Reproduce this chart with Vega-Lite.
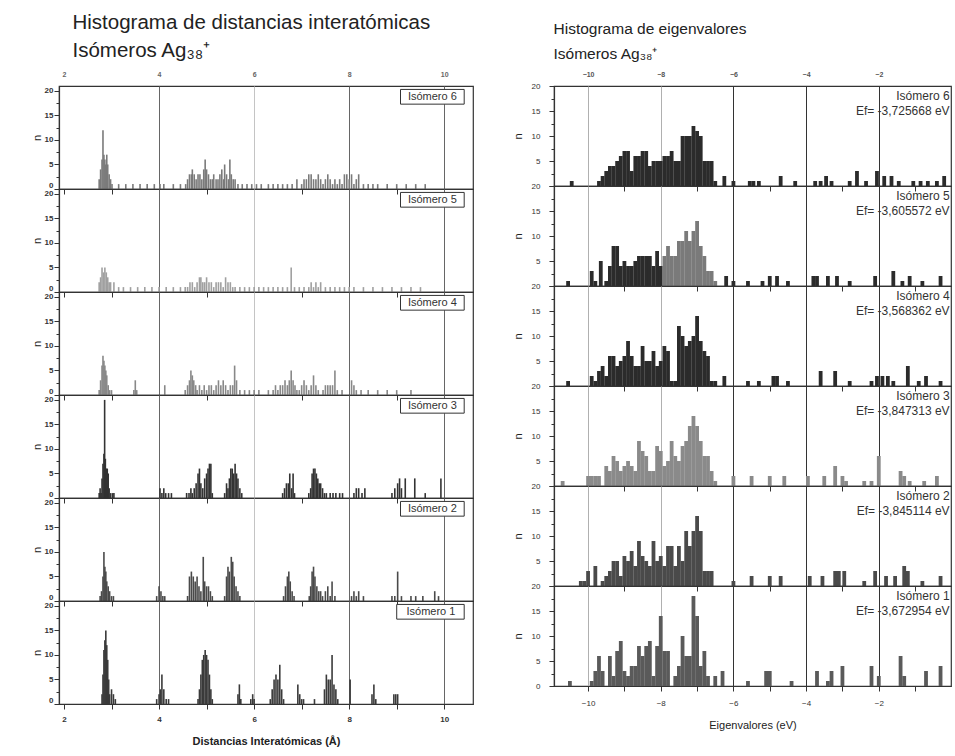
{
"$schema":"https://vega.github.io/schema/vega-lite/v6.json",
"padding":{"left":30,"top":12,"right":0,"bottom":5},
"background":"white",
"config":{
 "view":{"stroke":"#333","strokeWidth":1.2},
 "font":"Liberation Sans",
 "axis":{"domainColor":"#333","tickColor":"#333","labelColor":"#333","labelFontSize":8,"labelFontWeight":"bold","titleFontWeight":"normal","titleFontSize":11,"titleColor":"#222","domainWidth":1.2,"labelOverlap":false},
 "axisY":{"grid":false}
},
"datasets":{
"labs":[{"p":6,"lab":"Isómero 6","ef":"Ef= -3,725668 eV"},{"p":5,"lab":"Isómero 5","ef":"Ef= -3,605572 eV"},{"p":4,"lab":"Isómero 4","ef":"Ef= -3,568362 eV"},{"p":3,"lab":"Isómero 3","ef":"Ef= -3,847313 eV"},{"p":2,"lab":"Isómero 2","ef":"Ef= -3,845114 eV"},{"p":1,"lab":"Isómero 1","ef":"Ef= -3,672954 eV"}],
"dist":[
{"p":6,"d":2.74,"n":2},{"p":6,"d":2.77,"n":4},{"p":6,"d":2.80,"n":6},{"p":6,"d":2.82,"n":12},{"p":6,"d":2.84,"n":7},{"p":6,"d":2.86,"n":6},{"p":6,"d":2.88,"n":5},{"p":6,"d":2.90,"n":7},{"p":6,"d":2.92,"n":5},{"p":6,"d":2.95,"n":3},{"p":6,"d":2.98,"n":2},{"p":6,"d":3.01,"n":1},
{"p":6,"d":3.15,"n":1},{"p":6,"d":3.3,"n":1},{"p":6,"d":3.45,"n":1},{"p":6,"d":3.6,"n":1},{"p":6,"d":3.75,"n":1},{"p":6,"d":3.9,"n":1},{"p":6,"d":4.02,"n":1},{"p":6,"d":4.1,"n":1},{"p":6,"d":4.3,"n":1},{"p":6,"d":4.45,"n":1},
{"p":6,"d":4.56,"n":1},{"p":6,"d":4.6,"n":2},{"p":6,"d":4.64,"n":3},{"p":6,"d":4.68,"n":3},{"p":6,"d":4.7,"n":4},{"p":6,"d":4.74,"n":3},{"p":6,"d":4.78,"n":2},{"p":6,"d":4.82,"n":3},{"p":6,"d":4.86,"n":3},{"p":6,"d":4.9,"n":2},{"p":6,"d":4.94,"n":4},{"p":6,"d":4.97,"n":6},{"p":6,"d":5.0,"n":4},{"p":6,"d":5.04,"n":3},{"p":6,"d":5.08,"n":2},{"p":6,"d":5.12,"n":2},{"p":6,"d":5.15,"n":3},{"p":6,"d":5.2,"n":2},{"p":6,"d":5.24,"n":2},{"p":6,"d":5.28,"n":3},{"p":6,"d":5.32,"n":4},{"p":6,"d":5.36,"n":2},{"p":6,"d":5.38,"n":5},{"p":6,"d":5.42,"n":3},{"p":6,"d":5.46,"n":2},{"p":6,"d":5.49,"n":6},{"p":6,"d":5.52,"n":3},{"p":6,"d":5.56,"n":2},{"p":6,"d":5.6,"n":2},{"p":6,"d":5.66,"n":1},{"p":6,"d":5.75,"n":1},{"p":6,"d":5.85,"n":1},{"p":6,"d":5.95,"n":1},{"p":6,"d":6.05,"n":1},{"p":6,"d":6.15,"n":1},
{"p":6,"d":6.3,"n":1},{"p":6,"d":6.4,"n":1},{"p":6,"d":6.5,"n":1},{"p":6,"d":6.6,"n":1},{"p":6,"d":6.7,"n":1},{"p":6,"d":6.8,"n":1},{"p":6,"d":6.9,"n":2},{"p":6,"d":7.0,"n":1},{"p":6,"d":7.05,"n":2},{"p":6,"d":7.1,"n":2},{"p":6,"d":7.15,"n":3},{"p":6,"d":7.2,"n":3},{"p":6,"d":7.25,"n":2},{"p":6,"d":7.3,"n":2},{"p":6,"d":7.35,"n":3},{"p":6,"d":7.4,"n":2},{"p":6,"d":7.45,"n":1},{"p":6,"d":7.5,"n":2},{"p":6,"d":7.55,"n":3},{"p":6,"d":7.6,"n":2},{"p":6,"d":7.65,"n":1},{"p":6,"d":7.7,"n":2},{"p":6,"d":7.75,"n":1},{"p":6,"d":7.8,"n":2},{"p":6,"d":7.85,"n":1},{"p":6,"d":7.9,"n":3},{"p":6,"d":7.95,"n":3},{"p":6,"d":8.0,"n":2},{"p":6,"d":8.05,"n":3},{"p":6,"d":8.1,"n":1},{"p":6,"d":8.15,"n":2},{"p":6,"d":8.2,"n":3},{"p":6,"d":8.3,"n":1},{"p":6,"d":8.4,"n":1},{"p":6,"d":8.5,"n":1},{"p":6,"d":8.6,"n":1},{"p":6,"d":8.8,"n":1},{"p":6,"d":9.0,"n":1},{"p":6,"d":9.2,"n":1},{"p":6,"d":9.4,"n":1},{"p":6,"d":9.6,"n":1},
{"p":5,"d":2.74,"n":2},{"p":5,"d":2.77,"n":3},{"p":5,"d":2.80,"n":5},{"p":5,"d":2.83,"n":4},{"p":5,"d":2.86,"n":5},{"p":5,"d":2.89,"n":4},{"p":5,"d":2.92,"n":3},{"p":5,"d":2.95,"n":2},{"p":5,"d":2.98,"n":2},{"p":5,"d":3.05,"n":2},
{"p":5,"d":3.15,"n":1},{"p":5,"d":3.25,"n":1},{"p":5,"d":3.4,"n":1},{"p":5,"d":3.55,"n":1},{"p":5,"d":3.7,"n":1},{"p":5,"d":3.85,"n":1},{"p":5,"d":4.0,"n":1},{"p":5,"d":4.15,"n":1},{"p":5,"d":4.3,"n":1},{"p":5,"d":4.45,"n":1},
{"p":5,"d":4.55,"n":1},{"p":5,"d":4.6,"n":1},{"p":5,"d":4.65,"n":2},{"p":5,"d":4.7,"n":2},{"p":5,"d":4.75,"n":1},{"p":5,"d":4.8,"n":2},{"p":5,"d":4.85,"n":3},{"p":5,"d":4.88,"n":3},{"p":5,"d":4.92,"n":2},{"p":5,"d":4.96,"n":2},{"p":5,"d":5.0,"n":3},{"p":5,"d":5.05,"n":2},{"p":5,"d":5.1,"n":2},{"p":5,"d":5.15,"n":1},{"p":5,"d":5.2,"n":2},{"p":5,"d":5.25,"n":2},{"p":5,"d":5.3,"n":2},{"p":5,"d":5.35,"n":1},{"p":5,"d":5.4,"n":3},{"p":5,"d":5.45,"n":2},{"p":5,"d":5.5,"n":2},{"p":5,"d":5.55,"n":1},{"p":5,"d":5.6,"n":1},{"p":5,"d":5.7,"n":1},{"p":5,"d":5.8,"n":1},{"p":5,"d":5.9,"n":1},{"p":5,"d":6.0,"n":1},{"p":5,"d":6.1,"n":1},{"p":5,"d":6.2,"n":1},
{"p":5,"d":6.3,"n":1},{"p":5,"d":6.4,"n":1},{"p":5,"d":6.5,"n":1},{"p":5,"d":6.6,"n":1},{"p":5,"d":6.7,"n":1},{"p":5,"d":6.78,"n":5},{"p":5,"d":6.85,"n":1},{"p":5,"d":6.95,"n":1},{"p":5,"d":7.05,"n":1},{"p":5,"d":7.15,"n":1},{"p":5,"d":7.2,"n":2},{"p":5,"d":7.25,"n":1},{"p":5,"d":7.3,"n":2},{"p":5,"d":7.35,"n":1},{"p":5,"d":7.4,"n":2},{"p":5,"d":7.5,"n":1},{"p":5,"d":7.6,"n":1},{"p":5,"d":7.7,"n":1},{"p":5,"d":7.8,"n":1},{"p":5,"d":7.9,"n":1},{"p":5,"d":8.0,"n":1},{"p":5,"d":8.1,"n":1},{"p":5,"d":8.3,"n":1},{"p":5,"d":8.5,"n":1},{"p":5,"d":8.7,"n":1},{"p":5,"d":8.9,"n":1},{"p":5,"d":9.1,"n":1},{"p":5,"d":9.3,"n":1},{"p":5,"d":9.5,"n":1},
{"p":4,"d":2.74,"n":1},{"p":4,"d":2.77,"n":3},{"p":4,"d":2.8,"n":6},{"p":4,"d":2.82,"n":8},{"p":4,"d":2.84,"n":7},{"p":4,"d":2.86,"n":6},{"p":4,"d":2.88,"n":5},{"p":4,"d":2.9,"n":4},{"p":4,"d":2.93,"n":2},{"p":4,"d":2.96,"n":1},{"p":4,"d":3.0,"n":1},
{"p":4,"d":3.47,"n":1},{"p":4,"d":3.5,"n":3},{"p":4,"d":3.53,"n":1},{"p":4,"d":4.12,"n":2},
{"p":4,"d":4.55,"n":1},{"p":4,"d":4.6,"n":2},{"p":4,"d":4.64,"n":3},{"p":4,"d":4.67,"n":5},{"p":4,"d":4.7,"n":4},{"p":4,"d":4.73,"n":3},{"p":4,"d":4.77,"n":2},{"p":4,"d":4.8,"n":1},{"p":4,"d":4.85,"n":2},{"p":4,"d":4.9,"n":1},{"p":4,"d":4.95,"n":2},{"p":4,"d":5.0,"n":1},{"p":4,"d":5.05,"n":2},{"p":4,"d":5.1,"n":2},{"p":4,"d":5.15,"n":1},{"p":4,"d":5.2,"n":2},{"p":4,"d":5.25,"n":3},{"p":4,"d":5.3,"n":2},{"p":4,"d":5.35,"n":3},{"p":4,"d":5.4,"n":2},{"p":4,"d":5.45,"n":1},{"p":4,"d":5.5,"n":2},{"p":4,"d":5.55,"n":2},{"p":4,"d":5.59,"n":6},{"p":4,"d":5.63,"n":3},{"p":4,"d":5.7,"n":1},{"p":4,"d":5.8,"n":1},{"p":4,"d":5.9,"n":1},{"p":4,"d":6.0,"n":1},{"p":4,"d":6.1,"n":1},
{"p":4,"d":6.3,"n":1},{"p":4,"d":6.4,"n":1},{"p":4,"d":6.45,"n":2},{"p":4,"d":6.5,"n":1},{"p":4,"d":6.55,"n":2},{"p":4,"d":6.6,"n":2},{"p":4,"d":6.65,"n":3},{"p":4,"d":6.7,"n":2},{"p":4,"d":6.74,"n":3},{"p":4,"d":6.78,"n":5},{"p":4,"d":6.82,"n":3},{"p":4,"d":6.86,"n":2},{"p":4,"d":6.9,"n":1},{"p":4,"d":6.95,"n":1},{"p":4,"d":7.0,"n":2},{"p":4,"d":7.05,"n":3},{"p":4,"d":7.1,"n":2},{"p":4,"d":7.15,"n":1},{"p":4,"d":7.2,"n":2},{"p":4,"d":7.25,"n":4},{"p":4,"d":7.3,"n":2},{"p":4,"d":7.35,"n":1},{"p":4,"d":7.45,"n":1},{"p":4,"d":7.5,"n":2},{"p":4,"d":7.55,"n":2},{"p":4,"d":7.6,"n":2},{"p":4,"d":7.65,"n":2},{"p":4,"d":7.7,"n":5},{"p":4,"d":7.75,"n":1},{"p":4,"d":7.85,"n":1},{"p":4,"d":8.05,"n":3},{"p":4,"d":8.1,"n":2},{"p":4,"d":8.15,"n":1},{"p":4,"d":8.25,"n":1},{"p":4,"d":8.4,"n":1},{"p":4,"d":8.6,"n":1},{"p":4,"d":8.8,"n":1},{"p":4,"d":9.0,"n":1},{"p":4,"d":9.3,"n":1},
{"p":3,"d":2.74,"n":1},{"p":3,"d":2.76,"n":2},{"p":3,"d":2.78,"n":1},{"p":3,"d":2.8,"n":4},{"p":3,"d":2.82,"n":7},{"p":3,"d":2.84,"n":9},{"p":3,"d":2.855,"n":20},{"p":3,"d":2.87,"n":8},{"p":3,"d":2.89,"n":6},{"p":3,"d":2.91,"n":6},{"p":3,"d":2.93,"n":5},{"p":3,"d":2.95,"n":2},{"p":3,"d":2.98,"n":1},{"p":3,"d":3.02,"n":1},{"p":3,"d":3.05,"n":1},
{"p":3,"d":4.02,"n":2},{"p":3,"d":4.06,"n":1},{"p":3,"d":4.1,"n":2},{"p":3,"d":4.14,"n":1},{"p":3,"d":4.2,"n":1},{"p":3,"d":4.26,"n":1},
{"p":3,"d":4.58,"n":1},{"p":3,"d":4.63,"n":1},{"p":3,"d":4.67,"n":2},{"p":3,"d":4.7,"n":1},{"p":3,"d":4.74,"n":2},{"p":3,"d":4.78,"n":3},{"p":3,"d":4.82,"n":5},{"p":3,"d":4.85,"n":6},{"p":3,"d":4.88,"n":3},{"p":3,"d":4.92,"n":2},{"p":3,"d":4.96,"n":4},{"p":3,"d":5.0,"n":5},{"p":3,"d":5.03,"n":6},{"p":3,"d":5.06,"n":7},{"p":3,"d":5.09,"n":7},{"p":3,"d":5.12,"n":1},
{"p":3,"d":5.38,"n":1},{"p":3,"d":5.42,"n":3},{"p":3,"d":5.45,"n":2},{"p":3,"d":5.48,"n":4},{"p":3,"d":5.51,"n":6},{"p":3,"d":5.54,"n":6},{"p":3,"d":5.57,"n":5},{"p":3,"d":5.6,"n":7},{"p":3,"d":5.63,"n":5},{"p":3,"d":5.66,"n":4},{"p":3,"d":5.7,"n":2},{"p":3,"d":5.74,"n":1},
{"p":3,"d":6.6,"n":1},{"p":3,"d":6.64,"n":2},{"p":3,"d":6.68,"n":3},{"p":3,"d":6.72,"n":3},{"p":3,"d":6.75,"n":5},{"p":3,"d":6.79,"n":2},{"p":3,"d":6.82,"n":5},{"p":3,"d":6.85,"n":1},
{"p":3,"d":7.15,"n":1},{"p":3,"d":7.19,"n":2},{"p":3,"d":7.22,"n":5},{"p":3,"d":7.25,"n":6},{"p":3,"d":7.28,"n":6},{"p":3,"d":7.31,"n":5},{"p":3,"d":7.34,"n":4},{"p":3,"d":7.37,"n":3},{"p":3,"d":7.4,"n":3},{"p":3,"d":7.44,"n":2},{"p":3,"d":7.48,"n":1},{"p":3,"d":7.52,"n":1},{"p":3,"d":7.6,"n":1},{"p":3,"d":7.66,"n":1},{"p":3,"d":7.72,"n":1},{"p":3,"d":7.8,"n":1},{"p":3,"d":7.86,"n":1},
{"p":3,"d":8.1,"n":1},{"p":3,"d":8.15,"n":2},{"p":3,"d":8.2,"n":2},{"p":3,"d":8.27,"n":1},{"p":3,"d":8.33,"n":2},
{"p":3,"d":8.9,"n":1},{"p":3,"d":8.96,"n":2},{"p":3,"d":9.02,"n":3},{"p":3,"d":9.06,"n":4},{"p":3,"d":9.1,"n":2},{"p":3,"d":9.18,"n":4},{"p":3,"d":9.38,"n":4},{"p":3,"d":9.6,"n":1},{"p":3,"d":9.93,"n":4},
{"p":2,"d":2.76,"n":1},{"p":2,"d":2.79,"n":2},{"p":2,"d":2.82,"n":5},{"p":2,"d":2.84,"n":10},{"p":2,"d":2.86,"n":7},{"p":2,"d":2.88,"n":6},{"p":2,"d":2.9,"n":4},{"p":2,"d":2.93,"n":3},{"p":2,"d":2.96,"n":2},{"p":2,"d":3.0,"n":1},{"p":2,"d":3.04,"n":1},
{"p":2,"d":3.95,"n":1},{"p":2,"d":4.0,"n":3},{"p":2,"d":4.04,"n":2},{"p":2,"d":4.08,"n":1},{"p":2,"d":4.12,"n":1},
{"p":2,"d":4.6,"n":1},{"p":2,"d":4.64,"n":5},{"p":2,"d":4.68,"n":6},{"p":2,"d":4.72,"n":5},{"p":2,"d":4.76,"n":4},{"p":2,"d":4.8,"n":5},{"p":2,"d":4.84,"n":3},{"p":2,"d":4.88,"n":2},{"p":2,"d":4.93,"n":9},{"p":2,"d":4.96,"n":4},{"p":2,"d":5.0,"n":3},{"p":2,"d":5.04,"n":3},{"p":2,"d":5.08,"n":2},{"p":2,"d":5.12,"n":1},
{"p":2,"d":5.38,"n":1},{"p":2,"d":5.42,"n":5},{"p":2,"d":5.45,"n":7},{"p":2,"d":5.48,"n":6},{"p":2,"d":5.52,"n":9},{"p":2,"d":5.55,"n":8},{"p":2,"d":5.58,"n":5},{"p":2,"d":5.62,"n":3},{"p":2,"d":5.66,"n":2},{"p":2,"d":5.7,"n":1},
{"p":2,"d":6.62,"n":1},{"p":2,"d":6.66,"n":3},{"p":2,"d":6.7,"n":5},{"p":2,"d":6.73,"n":6},{"p":2,"d":6.76,"n":4},{"p":2,"d":6.8,"n":2},{"p":2,"d":6.84,"n":1},
{"p":2,"d":7.16,"n":1},{"p":2,"d":7.19,"n":3},{"p":2,"d":7.22,"n":6},{"p":2,"d":7.25,"n":7},{"p":2,"d":7.28,"n":5},{"p":2,"d":7.32,"n":3},{"p":2,"d":7.36,"n":2},{"p":2,"d":7.4,"n":2},{"p":2,"d":7.44,"n":1},{"p":2,"d":7.5,"n":2},{"p":2,"d":7.55,"n":3},{"p":2,"d":7.6,"n":1},{"p":2,"d":7.64,"n":4},{"p":2,"d":7.7,"n":1},
{"p":2,"d":8.05,"n":1},{"p":2,"d":8.1,"n":2},{"p":2,"d":8.15,"n":1},{"p":2,"d":8.2,"n":2},{"p":2,"d":8.3,"n":1},
{"p":2,"d":8.9,"n":1},{"p":2,"d":8.96,"n":1},{"p":2,"d":9.02,"n":6},{"p":2,"d":9.1,"n":1},{"p":2,"d":9.3,"n":1},{"p":2,"d":9.4,"n":1},{"p":2,"d":9.55,"n":1},{"p":2,"d":9.8,"n":2},{"p":2,"d":9.88,"n":1},
{"p":1,"d":2.8,"n":2},{"p":1,"d":2.82,"n":6},{"p":1,"d":2.84,"n":11},{"p":1,"d":2.86,"n":13},{"p":1,"d":2.88,"n":15},{"p":1,"d":2.9,"n":12},{"p":1,"d":2.92,"n":9},{"p":1,"d":2.94,"n":5},{"p":1,"d":2.96,"n":2},{"p":1,"d":3.0,"n":3},{"p":1,"d":3.04,"n":2},{"p":1,"d":3.08,"n":1},
{"p":1,"d":3.95,"n":1},{"p":1,"d":4.0,"n":2},{"p":1,"d":4.03,"n":3},{"p":1,"d":4.06,"n":6},{"p":1,"d":4.1,"n":3},{"p":1,"d":4.15,"n":1},{"p":1,"d":4.2,"n":1},
{"p":1,"d":4.82,"n":1},{"p":1,"d":4.85,"n":3},{"p":1,"d":4.88,"n":6},{"p":1,"d":4.91,"n":9},{"p":1,"d":4.94,"n":10},{"p":1,"d":4.97,"n":11},{"p":1,"d":5.0,"n":10},{"p":1,"d":5.03,"n":9},{"p":1,"d":5.06,"n":6},{"p":1,"d":5.09,"n":3},{"p":1,"d":5.12,"n":1},
{"p":1,"d":5.66,"n":2},{"p":1,"d":5.69,"n":4},{"p":1,"d":5.72,"n":1},{"p":1,"d":5.93,"n":1},{"p":1,"d":5.97,"n":2},{"p":1,"d":6.0,"n":1},
{"p":1,"d":6.34,"n":1},{"p":1,"d":6.38,"n":3},{"p":1,"d":6.42,"n":5},{"p":1,"d":6.46,"n":6},{"p":1,"d":6.5,"n":5},{"p":1,"d":6.54,"n":8},{"p":1,"d":6.58,"n":3},{"p":1,"d":6.62,"n":1},
{"p":1,"d":6.92,"n":4},{"p":1,"d":6.96,"n":2},{"p":1,"d":7.0,"n":1},{"p":1,"d":7.04,"n":1},{"p":1,"d":7.27,"n":1},
{"p":1,"d":7.48,"n":3},{"p":1,"d":7.52,"n":6},{"p":1,"d":7.56,"n":5},{"p":1,"d":7.6,"n":5},{"p":1,"d":7.64,"n":10},{"p":1,"d":7.68,"n":4},{"p":1,"d":7.72,"n":3},{"p":1,"d":7.76,"n":1},
{"p":1,"d":8.02,"n":5},{"p":1,"d":8.48,"n":2},{"p":1,"d":8.52,"n":4},{"p":1,"d":8.56,"n":1},{"p":1,"d":8.94,"n":2},{"p":1,"d":8.98,"n":2},{"p":1,"d":9.02,"n":2}
],
"eig":[
{"p":6,"e":-10.45,"n":1},{"p":6,"e":-9.7,"n":1},{"p":6,"e":-9.6,"n":2},{"p":6,"e":-9.5,"n":3},{"p":6,"e":-9.4,"n":4},{"p":6,"e":-9.3,"n":4},{"p":6,"e":-9.2,"n":5},{"p":6,"e":-9.1,"n":6},{"p":6,"e":-9.0,"n":7},{"p":6,"e":-8.9,"n":7},{"p":6,"e":-8.8,"n":3},{"p":6,"e":-8.7,"n":6},{"p":6,"e":-8.6,"n":6},{"p":6,"e":-8.5,"n":7},{"p":6,"e":-8.4,"n":7},{"p":6,"e":-8.3,"n":4},{"p":6,"e":-8.2,"n":5},{"p":6,"e":-8.1,"n":5},{"p":6,"e":-8.0,"n":5},{"p":6,"e":-7.9,"n":6},{"p":6,"e":-7.8,"n":6},{"p":6,"e":-7.7,"n":7},{"p":6,"e":-7.6,"n":5},{"p":6,"e":-7.5,"n":5},{"p":6,"e":-7.4,"n":10},{"p":6,"e":-7.3,"n":10},{"p":6,"e":-7.2,"n":10},{"p":6,"e":-7.1,"n":12},{"p":6,"e":-7.0,"n":11},{"p":6,"e":-6.9,"n":10},{"p":6,"e":-6.8,"n":5},{"p":6,"e":-6.7,"n":5},{"p":6,"e":-6.6,"n":5},{"p":6,"e":-6.5,"n":1},{"p":6,"e":-6.25,"n":2},{"p":6,"e":-6.0,"n":1},{"p":6,"e":-5.55,"n":1},{"p":6,"e":-5.45,"n":1},{"p":6,"e":-5.3,"n":1},{"p":6,"e":-4.7,"n":2},{"p":6,"e":-4.3,"n":1},{"p":6,"e":-3.75,"n":1},{"p":6,"e":-3.6,"n":1},{"p":6,"e":-3.45,"n":2},{"p":6,"e":-3.3,"n":1},{"p":6,"e":-2.8,"n":1},{"p":6,"e":-2.6,"n":3},{"p":6,"e":-2.35,"n":1},{"p":6,"e":-2.05,"n":3},{"p":6,"e":-1.85,"n":2},{"p":6,"e":-1.65,"n":2},{"p":6,"e":-1.45,"n":1},{"p":6,"e":-1.05,"n":1},{"p":6,"e":-0.85,"n":1},{"p":6,"e":-0.65,"n":1},{"p":6,"e":-0.4,"n":1},{"p":6,"e":-0.2,"n":2},
{"p":5,"e":-10.55,"n":1},{"p":5,"e":-9.9,"n":3},{"p":5,"e":-9.8,"n":1},{"p":5,"e":-9.65,"n":5},{"p":5,"e":-9.5,"n":1},{"p":5,"e":-9.4,"n":4},{"p":5,"e":-9.3,"n":8},{"p":5,"e":-9.2,"n":8},{"p":5,"e":-9.1,"n":4},{"p":5,"e":-9.0,"n":5},{"p":5,"e":-8.9,"n":4},{"p":5,"e":-8.8,"n":4},{"p":5,"e":-8.7,"n":5},{"p":5,"e":-8.6,"n":6},{"p":5,"e":-8.5,"n":6},{"p":5,"e":-8.4,"n":6},{"p":5,"e":-8.3,"n":6},{"p":5,"e":-8.2,"n":4},{"p":5,"e":-8.1,"n":7},{"p":5,"e":-8.0,"n":4},{"p":5,"e":-7.9,"n":6},{"p":5,"e":-7.8,"n":8},{"p":5,"e":-7.7,"n":6},{"p":5,"e":-7.6,"n":6},{"p":5,"e":-7.5,"n":9},{"p":5,"e":-7.4,"n":9},{"p":5,"e":-7.3,"n":11},{"p":5,"e":-7.2,"n":9},{"p":5,"e":-7.1,"n":11},{"p":5,"e":-7.0,"n":13},{"p":5,"e":-6.9,"n":8},{"p":5,"e":-6.8,"n":6},{"p":5,"e":-6.7,"n":3},{"p":5,"e":-6.6,"n":3},{"p":5,"e":-6.5,"n":1},{"p":5,"e":-6.2,"n":2},{"p":5,"e":-6.0,"n":1},{"p":5,"e":-5.6,"n":1},{"p":5,"e":-5.2,"n":1},{"p":5,"e":-5.0,"n":2},{"p":5,"e":-4.8,"n":2},{"p":5,"e":-4.5,"n":1},{"p":5,"e":-3.8,"n":2},{"p":5,"e":-3.7,"n":2},{"p":5,"e":-3.4,"n":2},{"p":5,"e":-3.15,"n":2},{"p":5,"e":-2.8,"n":1},{"p":5,"e":-2.1,"n":2},{"p":5,"e":-1.6,"n":3},{"p":5,"e":-1.35,"n":1},{"p":5,"e":-1.15,"n":2},{"p":5,"e":-0.8,"n":1},{"p":5,"e":-0.3,"n":2},
{"p":4,"e":-10.55,"n":1},{"p":4,"e":-9.9,"n":2},{"p":4,"e":-9.8,"n":1},{"p":4,"e":-9.7,"n":3},{"p":4,"e":-9.6,"n":4},{"p":4,"e":-9.5,"n":2},{"p":4,"e":-9.4,"n":6},{"p":4,"e":-9.3,"n":6},{"p":4,"e":-9.2,"n":4},{"p":4,"e":-9.1,"n":5},{"p":4,"e":-9.0,"n":6},{"p":4,"e":-8.9,"n":9},{"p":4,"e":-8.8,"n":6},{"p":4,"e":-8.7,"n":4},{"p":4,"e":-8.6,"n":4},{"p":4,"e":-8.5,"n":8},{"p":4,"e":-8.4,"n":5},{"p":4,"e":-8.3,"n":5},{"p":4,"e":-8.2,"n":7},{"p":4,"e":-8.1,"n":4},{"p":4,"e":-8.0,"n":5},{"p":4,"e":-7.9,"n":8},{"p":4,"e":-7.8,"n":7},{"p":4,"e":-7.7,"n":1},{"p":4,"e":-7.6,"n":1},{"p":4,"e":-7.5,"n":12},{"p":4,"e":-7.4,"n":10},{"p":4,"e":-7.3,"n":8},{"p":4,"e":-7.2,"n":9},{"p":4,"e":-7.1,"n":10},{"p":4,"e":-7.0,"n":14},{"p":4,"e":-6.9,"n":9},{"p":4,"e":-6.8,"n":7},{"p":4,"e":-6.7,"n":6},{"p":4,"e":-6.6,"n":1},{"p":4,"e":-6.5,"n":1},{"p":4,"e":-6.25,"n":2},{"p":4,"e":-5.6,"n":1},{"p":4,"e":-5.3,"n":1},{"p":4,"e":-4.9,"n":2},{"p":4,"e":-4.8,"n":2},{"p":4,"e":-4.5,"n":1},{"p":4,"e":-3.6,"n":3},{"p":4,"e":-3.2,"n":3},{"p":4,"e":-2.8,"n":1},{"p":4,"e":-2.2,"n":1},{"p":4,"e":-2.05,"n":2},{"p":4,"e":-1.9,"n":2},{"p":4,"e":-1.75,"n":2},{"p":4,"e":-1.6,"n":1},{"p":4,"e":-1.2,"n":4},{"p":4,"e":-0.9,"n":1},{"p":4,"e":-0.7,"n":2},{"p":4,"e":-0.3,"n":1},
{"p":3,"e":-10.7,"n":1},{"p":3,"e":-10.0,"n":2},{"p":3,"e":-9.9,"n":2},{"p":3,"e":-9.8,"n":2},{"p":3,"e":-9.7,"n":2},{"p":3,"e":-9.5,"n":4},{"p":3,"e":-9.4,"n":3},{"p":3,"e":-9.3,"n":6},{"p":3,"e":-9.2,"n":5},{"p":3,"e":-9.1,"n":3},{"p":3,"e":-9.0,"n":4},{"p":3,"e":-8.9,"n":5},{"p":3,"e":-8.8,"n":4},{"p":3,"e":-8.7,"n":3},{"p":3,"e":-8.6,"n":9},{"p":3,"e":-8.5,"n":7},{"p":3,"e":-8.4,"n":6},{"p":3,"e":-8.3,"n":3},{"p":3,"e":-8.2,"n":3},{"p":3,"e":-8.1,"n":8},{"p":3,"e":-8.0,"n":7},{"p":3,"e":-7.9,"n":4},{"p":3,"e":-7.8,"n":5},{"p":3,"e":-7.7,"n":9},{"p":3,"e":-7.6,"n":6},{"p":3,"e":-7.5,"n":5},{"p":3,"e":-7.4,"n":8},{"p":3,"e":-7.3,"n":9},{"p":3,"e":-7.2,"n":12},{"p":3,"e":-7.1,"n":14},{"p":3,"e":-7.0,"n":12},{"p":3,"e":-6.9,"n":9},{"p":3,"e":-6.8,"n":6},{"p":3,"e":-6.7,"n":6},{"p":3,"e":-6.6,"n":3},{"p":3,"e":-6.5,"n":1},{"p":3,"e":-6.0,"n":2},{"p":3,"e":-5.5,"n":2},{"p":3,"e":-5.0,"n":2},{"p":3,"e":-4.6,"n":2},{"p":3,"e":-3.95,"n":2},{"p":3,"e":-3.5,"n":2},{"p":3,"e":-3.2,"n":4},{"p":3,"e":-3.0,"n":2},{"p":3,"e":-2.9,"n":1},{"p":3,"e":-2.4,"n":1},{"p":3,"e":-2.2,"n":1},{"p":3,"e":-2.0,"n":6},{"p":3,"e":-1.4,"n":3},{"p":3,"e":-1.3,"n":2},{"p":3,"e":-1.15,"n":1},{"p":3,"e":-0.75,"n":1},{"p":3,"e":-0.4,"n":2},
{"p":2,"e":-10.2,"n":1},{"p":2,"e":-10.1,"n":1},{"p":2,"e":-10.0,"n":3},{"p":2,"e":-9.8,"n":4},{"p":2,"e":-9.6,"n":1},{"p":2,"e":-9.5,"n":2},{"p":2,"e":-9.4,"n":3},{"p":2,"e":-9.3,"n":5},{"p":2,"e":-9.2,"n":5},{"p":2,"e":-9.1,"n":2},{"p":2,"e":-9.0,"n":6},{"p":2,"e":-8.9,"n":5},{"p":2,"e":-8.8,"n":7},{"p":2,"e":-8.7,"n":4},{"p":2,"e":-8.6,"n":9},{"p":2,"e":-8.5,"n":6},{"p":2,"e":-8.4,"n":5},{"p":2,"e":-8.3,"n":4},{"p":2,"e":-8.2,"n":9},{"p":2,"e":-8.1,"n":5},{"p":2,"e":-8.0,"n":6},{"p":2,"e":-7.9,"n":4},{"p":2,"e":-7.8,"n":8},{"p":2,"e":-7.7,"n":8},{"p":2,"e":-7.6,"n":4},{"p":2,"e":-7.5,"n":8},{"p":2,"e":-7.4,"n":5},{"p":2,"e":-7.3,"n":11},{"p":2,"e":-7.2,"n":8},{"p":2,"e":-7.1,"n":11},{"p":2,"e":-7.0,"n":14},{"p":2,"e":-6.9,"n":11},{"p":2,"e":-6.8,"n":3},{"p":2,"e":-6.7,"n":3},{"p":2,"e":-6.6,"n":3},{"p":2,"e":-6.0,"n":1},{"p":2,"e":-5.5,"n":2},{"p":2,"e":-5.0,"n":2},{"p":2,"e":-4.7,"n":2},{"p":2,"e":-3.9,"n":2},{"p":2,"e":-3.55,"n":2},{"p":2,"e":-3.2,"n":3},{"p":2,"e":-3.1,"n":3},{"p":2,"e":-2.95,"n":3},{"p":2,"e":-2.4,"n":1},{"p":2,"e":-2.1,"n":3},{"p":2,"e":-1.8,"n":2},{"p":2,"e":-1.55,"n":2},{"p":2,"e":-1.3,"n":4},{"p":2,"e":-1.2,"n":3},{"p":2,"e":-0.8,"n":1},{"p":2,"e":-0.3,"n":2},
{"p":1,"e":-10.5,"n":1},{"p":1,"e":-9.9,"n":1},{"p":1,"e":-9.8,"n":3},{"p":1,"e":-9.7,"n":6},{"p":1,"e":-9.6,"n":3},{"p":1,"e":-9.4,"n":6},{"p":1,"e":-9.3,"n":2},{"p":1,"e":-9.2,"n":7},{"p":1,"e":-9.1,"n":9},{"p":1,"e":-9.0,"n":3},{"p":1,"e":-8.9,"n":2},{"p":1,"e":-8.8,"n":4},{"p":1,"e":-8.7,"n":4},{"p":1,"e":-8.6,"n":8},{"p":1,"e":-8.5,"n":6},{"p":1,"e":-8.4,"n":8},{"p":1,"e":-8.3,"n":9},{"p":1,"e":-8.2,"n":2},{"p":1,"e":-8.1,"n":8},{"p":1,"e":-8.0,"n":14},{"p":1,"e":-7.9,"n":7},{"p":1,"e":-7.8,"n":7},{"p":1,"e":-7.6,"n":2},{"p":1,"e":-7.5,"n":4},{"p":1,"e":-7.4,"n":10},{"p":1,"e":-7.3,"n":6},{"p":1,"e":-7.2,"n":6},{"p":1,"e":-7.1,"n":18},{"p":1,"e":-7.0,"n":14},{"p":1,"e":-6.9,"n":4},{"p":1,"e":-6.8,"n":7},{"p":1,"e":-6.7,"n":2},{"p":1,"e":-6.5,"n":2},{"p":1,"e":-6.3,"n":3},{"p":1,"e":-5.6,"n":1},{"p":1,"e":-5.1,"n":3},{"p":1,"e":-5.0,"n":3},{"p":1,"e":-4.4,"n":1},{"p":1,"e":-3.7,"n":3},{"p":1,"e":-3.4,"n":1},{"p":1,"e":-3.3,"n":3},{"p":1,"e":-3.0,"n":4},{"p":1,"e":-2.2,"n":4},{"p":1,"e":-2.0,"n":2},{"p":1,"e":-1.4,"n":6},{"p":1,"e":-1.3,"n":2},{"p":1,"e":-0.7,"n":3},{"p":1,"e":-0.3,"n":4}
]
},
"hconcat":[
{
"title":{"text":["Histograma de distancias interatómicas","Isómeros Ag₃₈⁺"],"anchor":"start","fontSize":20.5,"fontWeight":"normal","lineHeight":28,"color":"#222","offset":8,"dx":42},
"vconcat":[
{"width":414,"height":103,
 "layer":[
  {"data":{"name":"dist"},"transform":[{"filter":"datum.p == 6"}],"mark":{"type":"bar","size":1.6,"color":"#7a7a7a"},
   "encoding":{"x":{"field":"d","type":"quantitative","scale":{"domain":[2,10.5],"nice":false,"zero":false},"axis":{"values":[2,3,4,5,6,7,8,9,10],"labels":false,"title":null,"tickSize":5,"grid":true,"gridColor":{"condition":{"test":"datum.value == 6","value":"#c4c4c4"},"value":"#666"},"gridOpacity":{"condition":{"test":"datum.value % 2 == 1 || datum.value == 2","value":0},"value":1}}},
    "y":{"field":"n","type":"quantitative","scale":{"domain":[0,21],"nice":false},"axis":{"values":[0,2.5,5,7.5,10,12.5,15,17.5,20],"grid":false,"labelExpr":"datum.value % 5 == 0 ? datum.label : ''","labelBaseline":{"condition":{"test":"datum.value == 0","value":"bottom"},"value":"middle"},"tickSize":{"condition":{"test":"datum.value % 5 == 0","value":5},"value":3},"labelPadding":1,"title":"n","titlePadding":2}}}},
  {"data":{"name":"labs"},"transform":[{"filter":"datum.p == 6"}],"mark":{"type":"rect","fill":"white","stroke":"#333","strokeWidth":1},
   "encoding":{"x":{"datum":9.08,"type":"quantitative","axis":{"orient":"top","values":[2,4,6,8,10],"ticks":false,"domain":false,"grid":false,"labelFontSize":7,"labelColor":"#666","labelPadding":9,"title":null}},"x2":{"datum":10.42},"y":{"datum":20.3,"type":"quantitative","axis":null},"y2":{"datum":17.3}}},
  {"data":{"name":"labs"},"transform":[{"filter":"datum.p == 6"}],"mark":{"type":"text","fontSize":11,"color":"#333"},
   "encoding":{"x":{"datum":9.75,"type":"quantitative","axis":null},"y":{"datum":18.8,"type":"quantitative","axis":null},"text":{"field":"lab"}}}
 ],
 "resolve":{"axis":{"x":"independent","y":"independent"}}
},
{"width":414,"height":103,
 "layer":[
  {"data":{"name":"dist"},"transform":[{"filter":"datum.p == 5"}],"mark":{"type":"bar","size":1.6,"color":"#a0a0a0"},
   "encoding":{"x":{"field":"d","type":"quantitative","scale":{"domain":[2,10.5],"nice":false,"zero":false},"axis":{"values":[2,3,4,5,6,7,8,9,10],"labels":false,"title":null,"tickSize":5,"grid":true,"gridColor":{"condition":{"test":"datum.value == 6","value":"#c4c4c4"},"value":"#666"},"gridOpacity":{"condition":{"test":"datum.value % 2 == 1 || datum.value == 2","value":0},"value":1}}},
    "y":{"field":"n","type":"quantitative","scale":{"domain":[0,21],"nice":false},"axis":{"values":[0,2.5,5,7.5,10,12.5,15,17.5,20],"grid":false,"labelExpr":"datum.value % 5 == 0 ? datum.label : ''","labelBaseline":{"condition":{"test":"datum.value == 0","value":"bottom"},"value":"middle"},"tickSize":{"condition":{"test":"datum.value % 5 == 0","value":5},"value":3},"labelPadding":1,"title":"n","titlePadding":2}}}},
  {"data":{"name":"labs"},"transform":[{"filter":"datum.p == 5"}],"mark":{"type":"rect","fill":"white","stroke":"#333","strokeWidth":1},
   "encoding":{"x":{"datum":9.08,"type":"quantitative","axis":null},"x2":{"datum":10.42},"y":{"datum":20.3,"type":"quantitative","axis":null},"y2":{"datum":17.3}}},
  {"data":{"name":"labs"},"transform":[{"filter":"datum.p == 5"}],"mark":{"type":"text","fontSize":11,"color":"#333"},
   "encoding":{"x":{"datum":9.75,"type":"quantitative","axis":null},"y":{"datum":18.8,"type":"quantitative","axis":null},"text":{"field":"lab"}}}
 ],
 "resolve":{"axis":{"x":"independent","y":"independent"}}
},
{"width":414,"height":103,
 "layer":[
  {"data":{"name":"dist"},"transform":[{"filter":"datum.p == 4"}],"mark":{"type":"bar","size":1.6,"color":"#888888"},
   "encoding":{"x":{"field":"d","type":"quantitative","scale":{"domain":[2,10.5],"nice":false,"zero":false},"axis":{"values":[2,3,4,5,6,7,8,9,10],"labels":false,"title":null,"tickSize":5,"grid":true,"gridColor":{"condition":{"test":"datum.value == 6","value":"#c4c4c4"},"value":"#666"},"gridOpacity":{"condition":{"test":"datum.value % 2 == 1 || datum.value == 2","value":0},"value":1}}},
    "y":{"field":"n","type":"quantitative","scale":{"domain":[0,21],"nice":false},"axis":{"values":[0,2.5,5,7.5,10,12.5,15,17.5,20],"grid":false,"labelExpr":"datum.value % 5 == 0 ? datum.label : ''","labelBaseline":{"condition":{"test":"datum.value == 0","value":"bottom"},"value":"middle"},"tickSize":{"condition":{"test":"datum.value % 5 == 0","value":5},"value":3},"labelPadding":1,"title":"n","titlePadding":2}}}},
  {"data":{"name":"labs"},"transform":[{"filter":"datum.p == 4"}],"mark":{"type":"rect","fill":"white","stroke":"#333","strokeWidth":1},
   "encoding":{"x":{"datum":9.08,"type":"quantitative","axis":null},"x2":{"datum":10.42},"y":{"datum":20.3,"type":"quantitative","axis":null},"y2":{"datum":17.3}}},
  {"data":{"name":"labs"},"transform":[{"filter":"datum.p == 4"}],"mark":{"type":"text","fontSize":11,"color":"#333"},
   "encoding":{"x":{"datum":9.75,"type":"quantitative","axis":null},"y":{"datum":18.8,"type":"quantitative","axis":null},"text":{"field":"lab"}}}
 ],
 "resolve":{"axis":{"x":"independent","y":"independent"}}
},
{"width":414,"height":103,
 "layer":[
  {"data":{"name":"dist"},"transform":[{"filter":"datum.p == 3"}],"mark":{"type":"bar","size":1.6,"color":"#333333"},
   "encoding":{"x":{"field":"d","type":"quantitative","scale":{"domain":[2,10.5],"nice":false,"zero":false},"axis":{"values":[2,3,4,5,6,7,8,9,10],"labels":false,"title":null,"tickSize":5,"grid":true,"gridColor":{"condition":{"test":"datum.value == 6","value":"#c4c4c4"},"value":"#666"},"gridOpacity":{"condition":{"test":"datum.value % 2 == 1 || datum.value == 2","value":0},"value":1}}},
    "y":{"field":"n","type":"quantitative","scale":{"domain":[0,21],"nice":false},"axis":{"values":[0,2.5,5,7.5,10,12.5,15,17.5,20],"grid":false,"labelExpr":"datum.value % 5 == 0 ? datum.label : ''","labelBaseline":{"condition":{"test":"datum.value == 0","value":"bottom"},"value":"middle"},"tickSize":{"condition":{"test":"datum.value % 5 == 0","value":5},"value":3},"labelPadding":1,"title":"n","titlePadding":2}}}},
  {"data":{"name":"labs"},"transform":[{"filter":"datum.p == 3"}],"mark":{"type":"rect","fill":"white","stroke":"#333","strokeWidth":1},
   "encoding":{"x":{"datum":9.08,"type":"quantitative","axis":null},"x2":{"datum":10.42},"y":{"datum":20.3,"type":"quantitative","axis":null},"y2":{"datum":17.3}}},
  {"data":{"name":"labs"},"transform":[{"filter":"datum.p == 3"}],"mark":{"type":"text","fontSize":11,"color":"#333"},
   "encoding":{"x":{"datum":9.75,"type":"quantitative","axis":null},"y":{"datum":18.8,"type":"quantitative","axis":null},"text":{"field":"lab"}}}
 ],
 "resolve":{"axis":{"x":"independent","y":"independent"}}
},
{"width":414,"height":103,
 "layer":[
  {"data":{"name":"dist"},"transform":[{"filter":"datum.p == 2"}],"mark":{"type":"bar","size":1.6,"color":"#4a4a4a"},
   "encoding":{"x":{"field":"d","type":"quantitative","scale":{"domain":[2,10.5],"nice":false,"zero":false},"axis":{"values":[2,3,4,5,6,7,8,9,10],"labels":false,"title":null,"tickSize":5,"grid":true,"gridColor":{"condition":{"test":"datum.value == 6","value":"#c4c4c4"},"value":"#666"},"gridOpacity":{"condition":{"test":"datum.value % 2 == 1 || datum.value == 2","value":0},"value":1}}},
    "y":{"field":"n","type":"quantitative","scale":{"domain":[0,21],"nice":false},"axis":{"values":[0,2.5,5,7.5,10,12.5,15,17.5,20],"grid":false,"labelExpr":"datum.value % 5 == 0 ? datum.label : ''","labelBaseline":{"condition":{"test":"datum.value == 0","value":"bottom"},"value":"middle"},"tickSize":{"condition":{"test":"datum.value % 5 == 0","value":5},"value":3},"labelPadding":1,"title":"n","titlePadding":2}}}},
  {"data":{"name":"labs"},"transform":[{"filter":"datum.p == 2"}],"mark":{"type":"rect","fill":"white","stroke":"#333","strokeWidth":1},
   "encoding":{"x":{"datum":9.08,"type":"quantitative","axis":null},"x2":{"datum":10.42},"y":{"datum":20.3,"type":"quantitative","axis":null},"y2":{"datum":17.3}}},
  {"data":{"name":"labs"},"transform":[{"filter":"datum.p == 2"}],"mark":{"type":"text","fontSize":11,"color":"#333"},
   "encoding":{"x":{"datum":9.75,"type":"quantitative","axis":null},"y":{"datum":18.8,"type":"quantitative","axis":null},"text":{"field":"lab"}}}
 ],
 "resolve":{"axis":{"x":"independent","y":"independent"}}
},
{"width":414,"height":103,
 "layer":[
  {"data":{"name":"dist"},"transform":[{"filter":"datum.p == 1"}],"mark":{"type":"bar","size":1.6,"color":"#3a3a3a"},
   "encoding":{"x":{"field":"d","type":"quantitative","scale":{"domain":[2,10.5],"nice":false,"zero":false},"axis":{"values":[2,3,4,5,6,7,8,9,10],"labelExpr":"datum.value % 2 == 0 ? datum.label : ''","labelPadding":6,"title":"Distancias Interatómicas (Å)","titleFontWeight":"bold","titleFontSize":11,"titlePadding":12,"tickSize":5,"grid":true,"gridColor":{"condition":{"test":"datum.value == 6","value":"#c4c4c4"},"value":"#666"},"gridOpacity":{"condition":{"test":"datum.value % 2 == 1 || datum.value == 2","value":0},"value":1}}},
    "y":{"field":"n","type":"quantitative","scale":{"domain":[0,21],"nice":false},"axis":{"values":[0,2.5,5,7.5,10,12.5,15,17.5,20],"grid":false,"labelExpr":"datum.value % 5 == 0 ? datum.label : ''","labelBaseline":{"condition":{"test":"datum.value == 0","value":"bottom"},"value":"middle"},"tickSize":{"condition":{"test":"datum.value % 5 == 0","value":5},"value":3},"labelPadding":1,"title":"n","titlePadding":2}}}},
  {"data":{"name":"labs"},"transform":[{"filter":"datum.p == 1"}],"mark":{"type":"rect","fill":"white","stroke":"#333","strokeWidth":1},
   "encoding":{"x":{"datum":9.0,"type":"quantitative","axis":null},"x2":{"datum":10.42},"y":{"datum":20.3,"type":"quantitative","axis":null},"y2":{"datum":17.3}}},
  {"data":{"name":"labs"},"transform":[{"filter":"datum.p == 1"}],"mark":{"type":"text","fontSize":11,"color":"#333"},
   "encoding":{"x":{"datum":9.72,"type":"quantitative","axis":null},"y":{"datum":18.8,"type":"quantitative","axis":null},"text":{"field":"lab"}}}
 ],
 "resolve":{"axis":{"x":"independent","y":"independent"}}
}
],
"spacing":0,"bounds":"flush"
},
{
"title":{"text":["Histograma de eigenvalores","Isómeros Ag₃₈⁺"],"anchor":"start","fontSize":15.5,"fontWeight":"normal","lineHeight":25,"color":"#222","offset":7,"dx":42},
"vconcat":[
{"width":397,"height":100,
 "layer":[
  {"data":{"name":"eig"},"transform":[{"filter":"datum.p == 6"}],"mark":{"type":"bar","size":3.8,"color":"#2b2b2b"},
   "encoding":{"x":{"field":"e","type":"quantitative","scale":{"domain":[-10.8,-0.15],"nice":false,"zero":false},"axis":{"values":[-10,-9,-8,-7,-6,-5,-4,-3,-2,-1],"labels":false,"title":null,"tickSize":5,"grid":true,"gridColor":{"condition":{"test":"datum.value <= -8","value":"#b0b0b0"},"value":"#333"},"gridOpacity":{"condition":{"test":"datum.value % 2 != 0","value":0},"value":1}}},
    "y":{"field":"n","type":"quantitative","scale":{"domain":[0,20],"nice":false},"axis":{"values":[0,2.5,5,7.5,10,12.5,15,17.5,20],"grid":false,"labelExpr":"datum.value % 5 == 0 && datum.value > 0 ? datum.label : ''","tickSize":{"condition":{"test":"datum.value % 5 == 0","value":5},"value":3},"labelPadding":9,"labelFontWeight":"normal","title":"n","titlePadding":8}}}},
  {"data":{"name":"labs"},"transform":[{"filter":"datum.p == 6"}],"mark":{"type":"text","align":"right","fontSize":12,"color":"#333"},
   "encoding":{"x":{"datum":-0.05,"type":"quantitative","axis":{"orient":"top","values":[-10,-8,-6,-4,-2],"ticks":false,"domain":false,"grid":false,"labelFontSize":7,"labelColor":"#555","labelPadding":9,"title":null}},"y":{"datum":18.0,"type":"quantitative","axis":null},"text":{"field":"lab"}}},
  {"data":{"name":"labs"},"transform":[{"filter":"datum.p == 6"}],"mark":{"type":"text","align":"right","fontSize":12,"color":"#333"},
   "encoding":{"x":{"datum":-0.05,"type":"quantitative","axis":null},"y":{"datum":15.1,"type":"quantitative","axis":null},"text":{"field":"ef"}}}
 ],
 "resolve":{"axis":{"x":"independent","y":"independent"}}
},
{"width":397,"height":100,
 "layer":[
  {"data":{"name":"eig"},"transform":[{"filter":"datum.p == 5"}],"mark":{"type":"bar","size":3.8},
   "encoding":{"x":{"field":"e","type":"quantitative","scale":{"domain":[-10.8,-0.15],"nice":false,"zero":false},"axis":{"values":[-10,-9,-8,-7,-6,-5,-4,-3,-2,-1],"labels":false,"title":null,"tickSize":5,"grid":true,"gridColor":{"condition":{"test":"datum.value <= -8","value":"#b0b0b0"},"value":"#333"},"gridOpacity":{"condition":{"test":"datum.value % 2 != 0","value":0},"value":1}}},
    "y":{"field":"n","type":"quantitative","scale":{"domain":[0,20],"nice":false},"axis":{"values":[0,2.5,5,7.5,10,12.5,15,17.5,20],"grid":false,"labelExpr":"datum.value % 5 == 0 && datum.value > 0 ? datum.label : ''","tickSize":{"condition":{"test":"datum.value % 5 == 0","value":5},"value":3},"labelPadding":9,"labelFontWeight":"normal","title":"n","titlePadding":8}},
    "color":{"condition":{"test":"datum.e > -7.95 && datum.e < -6.4","value":"#7a7a7a"},"value":"#2b2b2b"}}},
  {"data":{"name":"labs"},"transform":[{"filter":"datum.p == 5"}],"mark":{"type":"text","align":"right","fontSize":12,"color":"#333"},
   "encoding":{"x":{"datum":-0.05,"type":"quantitative","axis":null},"y":{"datum":18.0,"type":"quantitative","axis":null},"text":{"field":"lab"}}},
  {"data":{"name":"labs"},"transform":[{"filter":"datum.p == 5"}],"mark":{"type":"text","align":"right","fontSize":12,"color":"#333"},
   "encoding":{"x":{"datum":-0.05,"type":"quantitative","axis":null},"y":{"datum":15.1,"type":"quantitative","axis":null},"text":{"field":"ef"}}}
 ],
 "resolve":{"axis":{"x":"independent","y":"independent"}}
},
{"width":397,"height":100,
 "layer":[
  {"data":{"name":"eig"},"transform":[{"filter":"datum.p == 4"}],"mark":{"type":"bar","size":3.8,"color":"#2b2b2b"},
   "encoding":{"x":{"field":"e","type":"quantitative","scale":{"domain":[-10.8,-0.15],"nice":false,"zero":false},"axis":{"values":[-10,-9,-8,-7,-6,-5,-4,-3,-2,-1],"labels":false,"title":null,"tickSize":5,"grid":true,"gridColor":{"condition":{"test":"datum.value <= -8","value":"#b0b0b0"},"value":"#333"},"gridOpacity":{"condition":{"test":"datum.value % 2 != 0","value":0},"value":1}}},
    "y":{"field":"n","type":"quantitative","scale":{"domain":[0,20],"nice":false},"axis":{"values":[0,2.5,5,7.5,10,12.5,15,17.5,20],"grid":false,"labelExpr":"datum.value % 5 == 0 && datum.value > 0 ? datum.label : ''","tickSize":{"condition":{"test":"datum.value % 5 == 0","value":5},"value":3},"labelPadding":9,"labelFontWeight":"normal","title":"n","titlePadding":8}}}},
  {"data":{"name":"labs"},"transform":[{"filter":"datum.p == 4"}],"mark":{"type":"text","align":"right","fontSize":12,"color":"#333"},
   "encoding":{"x":{"datum":-0.05,"type":"quantitative","axis":null},"y":{"datum":18.0,"type":"quantitative","axis":null},"text":{"field":"lab"}}},
  {"data":{"name":"labs"},"transform":[{"filter":"datum.p == 4"}],"mark":{"type":"text","align":"right","fontSize":12,"color":"#333"},
   "encoding":{"x":{"datum":-0.05,"type":"quantitative","axis":null},"y":{"datum":15.1,"type":"quantitative","axis":null},"text":{"field":"ef"}}}
 ],
 "resolve":{"axis":{"x":"independent","y":"independent"}}
},
{"width":397,"height":100,
 "layer":[
  {"data":{"name":"eig"},"transform":[{"filter":"datum.p == 3"}],"mark":{"type":"bar","size":3.8,"color":"#8a8a8a"},
   "encoding":{"x":{"field":"e","type":"quantitative","scale":{"domain":[-10.8,-0.15],"nice":false,"zero":false},"axis":{"values":[-10,-9,-8,-7,-6,-5,-4,-3,-2,-1],"labels":false,"title":null,"tickSize":5,"grid":true,"gridColor":{"condition":{"test":"datum.value <= -8","value":"#b0b0b0"},"value":"#333"},"gridOpacity":{"condition":{"test":"datum.value % 2 != 0","value":0},"value":1}}},
    "y":{"field":"n","type":"quantitative","scale":{"domain":[0,20],"nice":false},"axis":{"values":[0,2.5,5,7.5,10,12.5,15,17.5,20],"grid":false,"labelExpr":"datum.value % 5 == 0 && datum.value > 0 ? datum.label : ''","tickSize":{"condition":{"test":"datum.value % 5 == 0","value":5},"value":3},"labelPadding":9,"labelFontWeight":"normal","title":"n","titlePadding":8}}}},
  {"data":{"name":"labs"},"transform":[{"filter":"datum.p == 3"}],"mark":{"type":"text","align":"right","fontSize":12,"color":"#333"},
   "encoding":{"x":{"datum":-0.05,"type":"quantitative","axis":null},"y":{"datum":18.0,"type":"quantitative","axis":null},"text":{"field":"lab"}}},
  {"data":{"name":"labs"},"transform":[{"filter":"datum.p == 3"}],"mark":{"type":"text","align":"right","fontSize":12,"color":"#333"},
   "encoding":{"x":{"datum":-0.05,"type":"quantitative","axis":null},"y":{"datum":15.1,"type":"quantitative","axis":null},"text":{"field":"ef"}}}
 ],
 "resolve":{"axis":{"x":"independent","y":"independent"}}
},
{"width":397,"height":100,
 "layer":[
  {"data":{"name":"eig"},"transform":[{"filter":"datum.p == 2"}],"mark":{"type":"bar","size":3.8,"color":"#4a4a4a"},
   "encoding":{"x":{"field":"e","type":"quantitative","scale":{"domain":[-10.8,-0.15],"nice":false,"zero":false},"axis":{"values":[-10,-9,-8,-7,-6,-5,-4,-3,-2,-1],"labels":false,"title":null,"tickSize":5,"grid":true,"gridColor":{"condition":{"test":"datum.value <= -8","value":"#b0b0b0"},"value":"#333"},"gridOpacity":{"condition":{"test":"datum.value % 2 != 0","value":0},"value":1}}},
    "y":{"field":"n","type":"quantitative","scale":{"domain":[0,20],"nice":false},"axis":{"values":[0,2.5,5,7.5,10,12.5,15,17.5,20],"grid":false,"labelExpr":"datum.value % 5 == 0 && datum.value > 0 ? datum.label : ''","tickSize":{"condition":{"test":"datum.value % 5 == 0","value":5},"value":3},"labelPadding":9,"labelFontWeight":"normal","title":"n","titlePadding":8}}}},
  {"data":{"name":"labs"},"transform":[{"filter":"datum.p == 2"}],"mark":{"type":"text","align":"right","fontSize":12,"color":"#333"},
   "encoding":{"x":{"datum":-0.05,"type":"quantitative","axis":null},"y":{"datum":18.0,"type":"quantitative","axis":null},"text":{"field":"lab"}}},
  {"data":{"name":"labs"},"transform":[{"filter":"datum.p == 2"}],"mark":{"type":"text","align":"right","fontSize":12,"color":"#333"},
   "encoding":{"x":{"datum":-0.05,"type":"quantitative","axis":null},"y":{"datum":15.1,"type":"quantitative","axis":null},"text":{"field":"ef"}}}
 ],
 "resolve":{"axis":{"x":"independent","y":"independent"}}
},
{"width":397,"height":100,
 "layer":[
  {"data":{"name":"eig"},"transform":[{"filter":"datum.p == 1"}],"mark":{"type":"bar","size":3.8,"color":"#5a5a5a"},
   "encoding":{"x":{"field":"e","type":"quantitative","scale":{"domain":[-10.8,-0.15],"nice":false,"zero":false},"axis":{"values":[-10,-9,-8,-7,-6,-5,-4,-3,-2,-1],"labelExpr":"datum.value % 2 == 0 ? datum.label : ''","labelPadding":8,"labelFontWeight":"normal","title":"Eigenvalores (eV)","titleFontSize":11,"titlePadding":12,"tickSize":5,"grid":true,"gridColor":{"condition":{"test":"datum.value <= -8","value":"#b0b0b0"},"value":"#333"},"gridOpacity":{"condition":{"test":"datum.value % 2 != 0","value":0},"value":1}}},
    "y":{"field":"n","type":"quantitative","scale":{"domain":[0,20],"nice":false},"axis":{"values":[0,2.5,5,7.5,10,12.5,15,17.5,20],"grid":false,"labelExpr":"datum.value % 5 == 0 ? datum.label : ''","tickSize":{"condition":{"test":"datum.value % 5 == 0","value":5},"value":3},"labelPadding":9,"labelFontWeight":"normal","title":"n","titlePadding":8}}}},
  {"data":{"name":"labs"},"transform":[{"filter":"datum.p == 1"}],"mark":{"type":"text","align":"right","fontSize":12,"color":"#333"},
   "encoding":{"x":{"datum":-0.05,"type":"quantitative","axis":null},"y":{"datum":18.0,"type":"quantitative","axis":null},"text":{"field":"lab"}}},
  {"data":{"name":"labs"},"transform":[{"filter":"datum.p == 1"}],"mark":{"type":"text","align":"right","fontSize":12,"color":"#333"},
   "encoding":{"x":{"datum":-0.05,"type":"quantitative","axis":null},"y":{"datum":15.1,"type":"quantitative","axis":null},"text":{"field":"ef"}}}
 ],
 "resolve":{"axis":{"x":"independent","y":"independent"}}
}
],
"spacing":0,"bounds":"flush"
}
],
"spacing":37
}
